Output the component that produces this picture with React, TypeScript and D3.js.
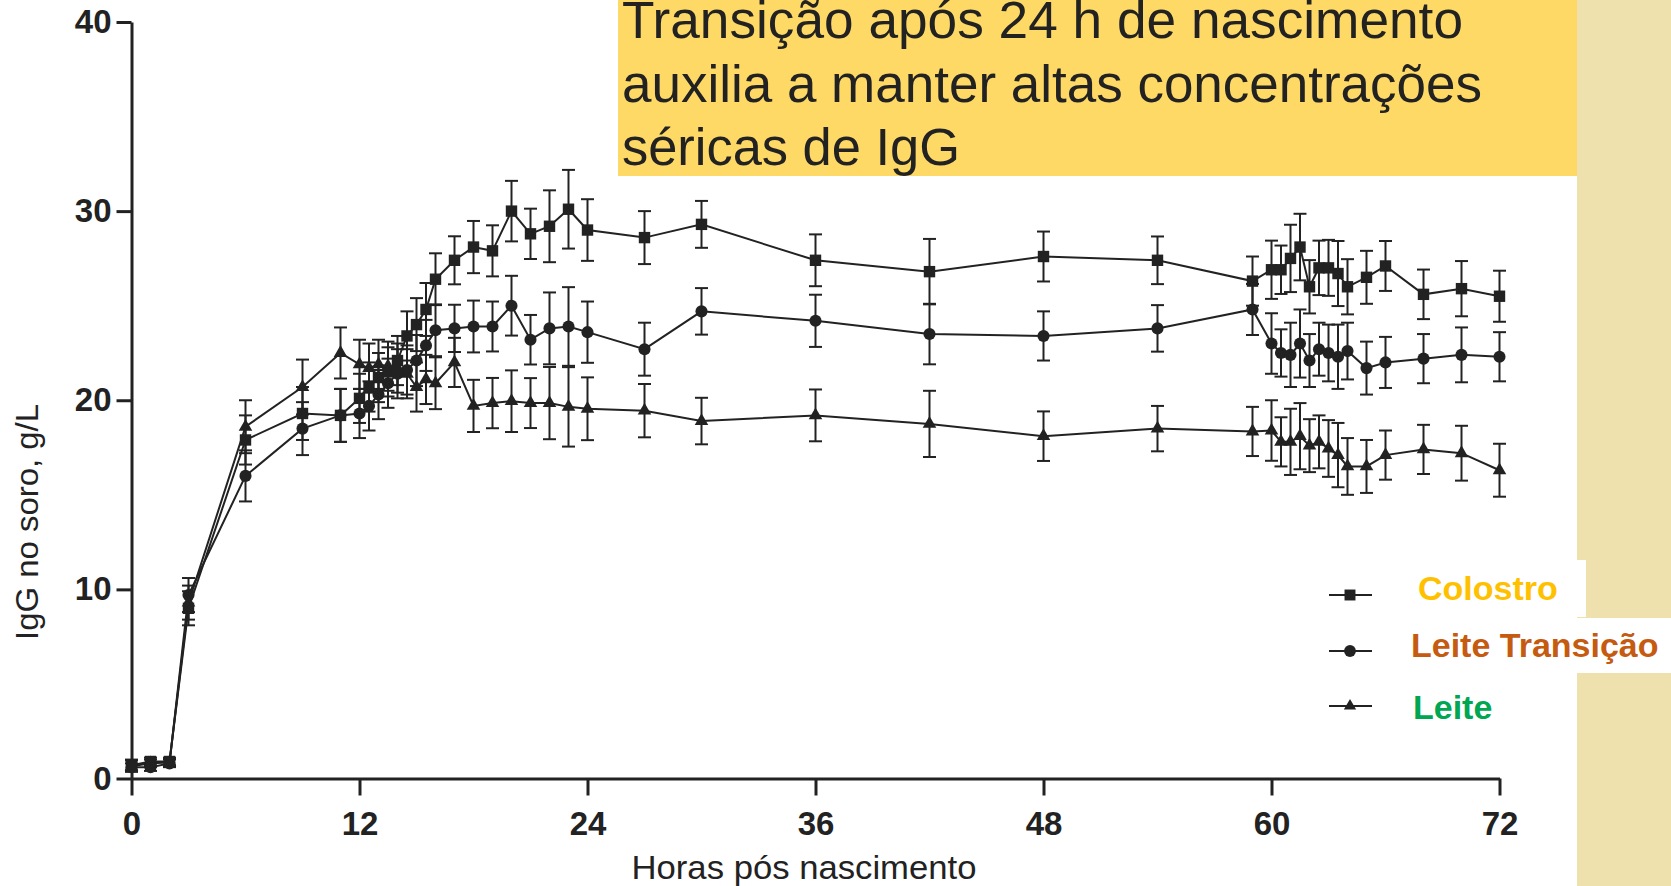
// @ts-nocheck
import * as d3 from "d3"
import { useEffect, useRef } from "react"
import * as React from "react"

// sampling times (hours after birth)
const hours = [0, 1, 2, 3, 6, 9, 11, 12, 12.5, 13, 13.5, 14, 14.5, 15, 15.5, 16, 17, 18, 19, 20, 21, 22, 23, 24, 27, 30, 36, 42, 48, 54, 59, 60, 60.5, 61, 61.5, 62, 62.5, 63, 63.5, 64, 65, 66, 68, 70, 72]

// serum IgG, g/L (mean) and SEM
const colostro = [0.7, 0.9, 0.9, 9.0, 17.9, 19.3, 19.2, 20.1, 20.7, 21.2, 21.5, 22.1, 23.4, 24.0, 24.8, 26.4, 27.4, 28.1, 27.9, 30.0, 28.8, 29.2, 30.1, 29.0, 28.6, 29.3, 27.4, 26.8, 27.6, 27.4, 26.3, 26.9, 26.9, 27.5, 28.1, 26.0, 27.0, 27.0, 26.7, 26.0, 26.5, 27.1, 25.6, 25.9, 25.5]
const colostroSem = [0.3, 0.2, 0.2, 0.9, 1.3, 1.4, 1.4, 1.3, 1.3, 1.3, 1.3, 1.3, 1.3, 1.4, 1.4, 1.37, 1.27, 1.38, 1.35, 1.6, 1.33, 1.9, 2.08, 1.63, 1.4, 1.24, 1.37, 1.73, 1.32, 1.26, 1.3, 1.54, 1.28, 1.78, 1.76, 1.41, 1.44, 1.48, 1.72, 1.46, 1.4, 1.32, 1.31, 1.46, 1.35]

const transicao = [0.6, 0.6, 0.8, 9.7, 16.0, 18.5, 19.2, 19.3, 19.7, 20.3, 20.9, 21.4, 21.6, 22.1, 22.9, 23.7, 23.8, 23.9, 23.9, 25.0, 23.2, 23.8, 23.9, 23.6, 22.7, 24.7, 24.2, 23.5, 23.4, 23.8, 24.8, 23.0, 22.5, 22.4, 23.0, 22.1, 22.7, 22.5, 22.3, 22.6, 21.7, 22.0, 22.2, 22.4, 22.3]
const transicaoSem = [0.2, 0.2, 0.2, 0.9, 1.35, 1.4, 1.4, 1.3, 1.3, 1.3, 1.3, 1.3, 1.3, 1.35, 1.35, 1.37, 1.25, 1.37, 1.32, 1.58, 1.31, 1.9, 2.08, 1.62, 1.4, 1.23, 1.38, 1.6, 1.3, 1.23, 1.35, 1.6, 1.25, 1.7, 1.8, 1.4, 1.4, 1.5, 1.7, 1.5, 1.4, 1.35, 1.3, 1.45, 1.3]

const leite = [0.65, 0.8, 0.85, 9.3, 18.6, 20.7, 22.5, 21.9, 21.7, 21.9, 21.8, 21.7, 21.4, 20.7, 21.1, 20.9, 22.0, 19.7, 19.85, 19.95, 19.85, 19.85, 19.65, 19.55, 19.45, 18.9, 19.2, 18.75, 18.1, 18.5, 18.35, 18.4, 17.8, 17.8, 18.1, 17.6, 17.8, 17.45, 17.1, 16.5, 16.5, 17.1, 17.4, 17.2, 16.3]
const leiteSem = [0.3, 0.2, 0.2, 0.9, 1.4, 1.45, 1.35, 1.3, 1.3, 1.3, 1.3, 1.3, 1.3, 1.3, 1.3, 1.37, 1.3, 1.38, 1.33, 1.63, 1.32, 1.91, 2.1, 1.66, 1.41, 1.23, 1.37, 1.75, 1.31, 1.2, 1.3, 1.6, 1.3, 1.75, 1.75, 1.4, 1.4, 1.5, 1.7, 1.5, 1.4, 1.3, 1.3, 1.45, 1.4]

const seriesNames = ["Colostro", "Leite Transição", "Leite"]
const seriesColors = ["#FFC000", "#C55A11", "#00A651"]
const titleLines = ["Transição após 24 h de nascimento", "auxilia a manter altas concentrações", "séricas de IgG"]
const yTicks = [0, 10, 20, 30, 40]
const xTicks = [0, 12, 24, 36, 48, 60, 72]

const W = 1671
const H = 886
const INK = "#222"
const FONT = "'Liberation Sans', Arial, Helvetica, sans-serif"

function buildChart(el: SVGSVGElement) {
  const svg = d3.select(el)
  svg.selectAll("*").remove()

  const x = d3.scaleLinear().domain([0, 72]).range([131.5, 1499.5])
  const y = d3.scaleLinear().domain([0, 40]).range([778.5, 22])

  // slide backgrounds
  svg.append("rect").attr("width", W).attr("height", H).attr("fill", "#fff")
  svg.append("rect").attr("x", 1577).attr("width", W - 1577).attr("height", H).attr("fill", "#EEE1AD")
  svg.append("rect").attr("x", 618).attr("width", 1577 - 618).attr("height", 176).attr("fill", "#FED966")

  const title = svg.append("g").attr("font-family", FONT).attr("font-size", 51).attr("fill", INK)
  const titleWidths = [841, 860, 338]
  title.selectAll("text").data(titleLines).join("text")
    .attr("x", 622)
    .attr("y", (d, i) => 38 + i * 63.5)
    .attr("textLength", (d, i) => titleWidths[i])
    .attr("lengthAdjust", "spacingAndGlyphs")
    .text(d => d)

  // axes
  const gx = svg.append("g").attr("transform", `translate(0,${y(0)})`)
  gx.call(d3.axisBottom(x).tickValues(d3.range(0, 73, 3)).tickSize(9).tickSizeOuter(0).tickFormat(""))
  gx.call(d3.axisBottom(x).tickValues(xTicks).tickSize(17).tickSizeOuter(0).tickPadding(16).tickFormat(d3.format("d")))

  const gy = svg.append("g").attr("transform", `translate(${x(0)},0)`)
  gy.call(d3.axisLeft(y).tickValues(d3.range(0, 40.1, 2.5)).tickSize(9).tickSizeOuter(0).tickFormat(""))
  gy.call(d3.axisLeft(y).tickValues(yTicks).tickSize(15).tickSizeOuter(0).tickPadding(5).tickFormat(d3.format("d")))

  svg.selectAll(".domain").attr("stroke", INK).attr("stroke-width", 3)
  svg.selectAll(".tick line").attr("stroke", INK).attr("stroke-width", 3)
  svg.selectAll(".tick text")
    .attr("fill", INK)
    .attr("font-family", FONT)
    .attr("font-weight", "bold")
    .attr("font-size", 33)

  svg.append("text")
    .attr("x", 804).attr("y", 879)
    .attr("text-anchor", "middle")
    .attr("font-family", FONT).attr("font-size", 34).attr("fill", INK)
    .attr("textLength", 345).attr("lengthAdjust", "spacingAndGlyphs")
    .text("Horas pós nascimento")

  svg.append("text")
    .attr("transform", "translate(38,522) rotate(-90)")
    .attr("text-anchor", "middle")
    .attr("font-family", FONT).attr("font-size", 32).attr("fill", INK)
    .attr("textLength", 236).attr("lengthAdjust", "spacingAndGlyphs")
    .text("IgG no soro, g/L")

  const series = [
    { values: colostro, sem: colostroSem, symbol: d3.symbolSquare, size: 130 },
    { values: transicao, sem: transicaoSem, symbol: d3.symbolCircle, size: 115 },
    { values: leite, sem: leiteSem, symbol: d3.symbolTriangle, size: 80 },
  ]

  const line = d3.line<number>().x((d, i) => x(hours[i])).y(d => y(d))
  const plot = svg.append("g")

  series.forEach(s => {
    plot.append("path").attr("d", line(s.values)).attr("fill", "none").attr("stroke", INK).attr("stroke-width", 2)
  })

  series.forEach(s => {
    const bars = plot.append("g").attr("stroke", INK).attr("stroke-width", 2)
    s.values.forEach((v, i) => {
      const cx = x(hours[i])
      const top = y(v + s.sem[i])
      const bot = y(v - s.sem[i])
      bars.append("line").attr("x1", cx).attr("x2", cx).attr("y1", top).attr("y2", bot)
      bars.append("line").attr("x1", cx - 6.5).attr("x2", cx + 6.5).attr("y1", top).attr("y2", top)
      bars.append("line").attr("x1", cx - 6.5).attr("x2", cx + 6.5).attr("y1", bot).attr("y2", bot)
    })
  })

  series.forEach(s => {
    plot.append("g").selectAll("path").data(s.values).join("path")
      .attr("transform", (d, i) => `translate(${x(hours[i])},${y(d)})`)
      .attr("d", d3.symbol().type(s.symbol).size(s.size))
      .attr("fill", INK)
  })

  // legend
  svg.append("rect").attr("x", 1400).attr("y", 560).attr("width", 186).attr("height", 57).attr("fill", "#fff")
  svg.append("rect").attr("x", 1395).attr("y", 618).attr("width", W - 1395).attr("height", 55).attr("fill", "#fff")

  const legendRows = [595, 651, 706]
  const legendBase = [600, 657, 719]
  const legendX = [1418, 1411, 1413]
  const legendSizes = [120, 110, 65]
  const legend = svg.append("g")
  series.forEach((s, i) => {
    legend.append("line").attr("x1", 1329).attr("x2", 1372).attr("y1", legendRows[i]).attr("y2", legendRows[i])
      .attr("stroke", INK).attr("stroke-width", 2)
    legend.append("path").attr("transform", `translate(1350,${legendRows[i]})`)
      .attr("d", d3.symbol().type(s.symbol).size(legendSizes[i])).attr("fill", INK)
    legend.append("text").attr("x", legendX[i]).attr("y", legendBase[i])
      .attr("font-family", FONT).attr("font-weight", "bold").attr("font-size", 34)
      .attr("fill", seriesColors[i]).text(seriesNames[i])
  })
}

export default function App() {
  const ref = useRef<SVGSVGElement>(null)
  useEffect(() => {
    if (ref.current) buildChart(ref.current)
  }, [])
  return (
    <svg ref={ref} width={W} height={H}
      style={{ position: "absolute", left: 0, top: 0, display: "block" }} />
  )
}
